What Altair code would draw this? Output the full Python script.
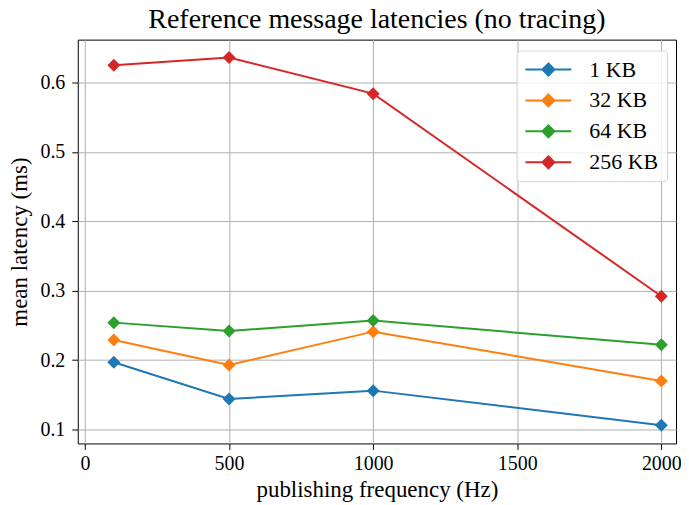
import altair as alt
import pandas as pd

freq = [100, 500, 1000, 2000]
series_names = ["1 KB", "32 KB", "64 KB", "256 KB"]
lat_1kb = [0.197, 0.144, 0.156, 0.106]
lat_32kb = [0.229, 0.193, 0.241, 0.170]
lat_64kb = [0.254, 0.242, 0.257, 0.222]
lat_256kb = [0.625, 0.636, 0.584, 0.292]
colors = ["#1f77b4", "#ff7f0e", "#2ca02c", "#d62728"]
x_ticks = [0, 500, 1000, 1500, 2000]
y_ticks = [0.1, 0.2, 0.3, 0.4, 0.5, 0.6]

rows = []
for name, vals in zip(series_names, [lat_1kb, lat_32kb, lat_64kb, lat_256kb]):
    for f, v in zip(freq, vals):
        rows.append({"freq": f, "latency": v, "size": name})
df = pd.DataFrame(rows)

FONT = "Liberation Serif"
legend_path = "M-1,0L3.6,0M1.3,-0.6L1.9,0L1.3,0.6L0.7,0Z"

base = alt.Chart(df).encode(
    x=alt.X("freq:Q", scale=alt.Scale(domain=[-25, 2051], nice=False, zero=False),
            axis=alt.Axis(values=x_ticks, format="d", title="publishing frequency (Hz)")),
    y=alt.Y("latency:Q", scale=alt.Scale(domain=[0.0799, 0.6618], nice=False, zero=False),
            axis=alt.Axis(values=y_ticks, format=".1f", title="mean latency (ms)")),
    color=alt.Color("size:N", sort=series_names,
                    scale=alt.Scale(domain=series_names, range=colors),
                    legend=alt.Legend(title=None, orient="none", legendX=440, legendY=11,
                                      symbolType=legend_path, symbolSize=400,
                                      symbolStrokeWidth=2, labelOffset=43,
                                      rowPadding=9, padding=8,
                                      cornerRadius=4, strokeColor="#d5d5d5",
                                      fillColor="rgba(255,255,255,0.8)",
                                      labelFont=FONT, labelFontSize=22,
                                      labelColor="black")),
    detail="size:N",
)

lines = base.mark_line(strokeWidth=2, point=alt.OverlayMarkDef(shape="diamond", size=170, filled=True, opacity=1))

chart = lines.properties(
    width=600, height=405,
    title=alt.TitleParams("Reference message latencies (no tracing)", font=FONT, fontSize=28,
                          fontWeight="normal", color="black", offset=6, anchor="middle"),
    autosize=alt.AutoSizeParams(type="none"),
    padding={"left": 70, "top": 31, "right": 5, "bottom": 58},
).configure_view(
    stroke="black", strokeWidth=1
).configure_axis(
    labelFont=FONT, labelFontSize=20, labelColor="black",
    titleFont=FONT, titleFontSize=23, titleFontWeight="normal", titleColor="black",
    grid=True, gridColor="#b0b0b0", gridWidth=1,
    domain=False, tickColor="black", tickSize=6, tickWidth=1,
).configure_axisX(titlePadding=5, labelPadding=4).configure_axisY(titlePadding=8, labelPadding=7)

chart.save("out.html", embed_options={"renderer": "svg", "actions": False})
